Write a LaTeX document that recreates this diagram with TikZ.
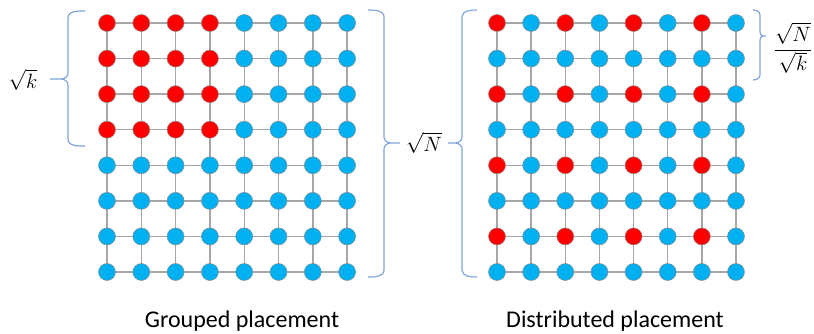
\documentclass[tikz,border=0pt]{standalone}
\usepackage{fontspec}
\setmainfont{Carlito}
\usetikzlibrary{backgrounds}
\begin{document}
\begin{tikzpicture}[x=1pt,y=-1pt,
  dot/.style={circle,inner sep=0pt,minimum size=17pt,draw=black!45,line width=0.5pt},
  rdot/.style={dot,fill=red},
  bdot/.style={dot,fill={rgb,255:red,0;green,176;blue,240}},
  gridline/.style={draw=black!35,line width=1.4pt},
  brace/.style={draw={rgb,255:red,126;green,166;blue,216},line width=1.2pt,line join=round},
  lbl/.style={font=\fontsize{24}{28}\selectfont},
  mlbl/.style={font=\fontsize{22}{26}\selectfont,inner sep=0pt}]
\useasboundingbox (0,0) rectangle (814,333);
% grids
\foreach \i in {0,...,7}{
  \foreach \j in {0,...,7}{
    \pgfmathsetmacro{\xx}{107+34.3*\i}
    \pgfmathsetmacro{\yy}{23+35.57*\j}
    \pgfmathtruncatemacro{\isred}{(\i<4)&&(\j<4)}
    \ifnum\isred=1
      \node[rdot] (L-\i-\j) at (\xx,\yy) {};
    \else
      \node[bdot] (L-\i-\j) at (\xx,\yy) {};
    \fi
    \pgfmathsetmacro{\xr}{497+34.14*\i}
    \pgfmathtruncatemacro{\isredr}{(mod(\i,2)==0)&&(mod(\j,2)==0)}
    \ifnum\isredr=1
      \node[rdot] (R-\i-\j) at (\xr,\yy) {};
    \else
      \node[bdot] (R-\i-\j) at (\xr,\yy) {};
    \fi
  }
}
\begin{scope}[on background layer]
\foreach \g in {L,R}{
  \foreach \i in {0,...,7}{
    \path[gridline] (\g-\i-0.center) -- (\g-\i-7.center);
    \path[gridline] (\g-0-\i.center) -- (\g-7-\i.center);
  }
}
\end{scope}
% braces
\path[brace] (85,11) to[out=180,in=90] (68,18) -- (68,73) to[out=-90,in=0] (61,79) -- (50,79)
  (50,79) -- (61,79) to[out=0,in=90] (68,85) -- (68,139) to[out=-90,in=180] (85,146);
\path[brace] (368,10) to[out=0,in=90] (384,17) -- (384,137) to[out=-90,in=180] (391,143) -- (400,143)
  (400,143) -- (391,143) to[out=180,in=90] (384,149) -- (384,270) to[out=-90,in=0] (368,277);
\path[brace] (477,10) to[out=180,in=90] (462,17) -- (462,137) to[out=-90,in=0] (455,143) -- (448,143)
  (448,143) -- (455,143) to[out=0,in=90] (462,149) -- (462,270) to[out=-90,in=180] (477,277);
\path[brace] (753,10) to[out=0,in=90] (760,15) -- (760,32) to[out=-90,in=180] (763,36) -- (766,36)
  (766,36) -- (763,36) to[out=180,in=90] (760,40) -- (760,75) to[out=-90,in=0] (753,80);
% labels
\node[mlbl] (sk) at (23,80) {$\sqrt{k}$};
\node[mlbl] (sN) at (424,143) {$\sqrt{N}$};
\node[mlbl,font=\fontsize{20}{24}\selectfont] (frac) at (793,48) {$\displaystyle\frac{\sqrt{N}}{\sqrt{k}}$};
\node[lbl] (t1) at (242,321) {Grouped placement};
\node[lbl] (t2) at (615,321) {Distributed placement};
\end{tikzpicture}
\end{document}
